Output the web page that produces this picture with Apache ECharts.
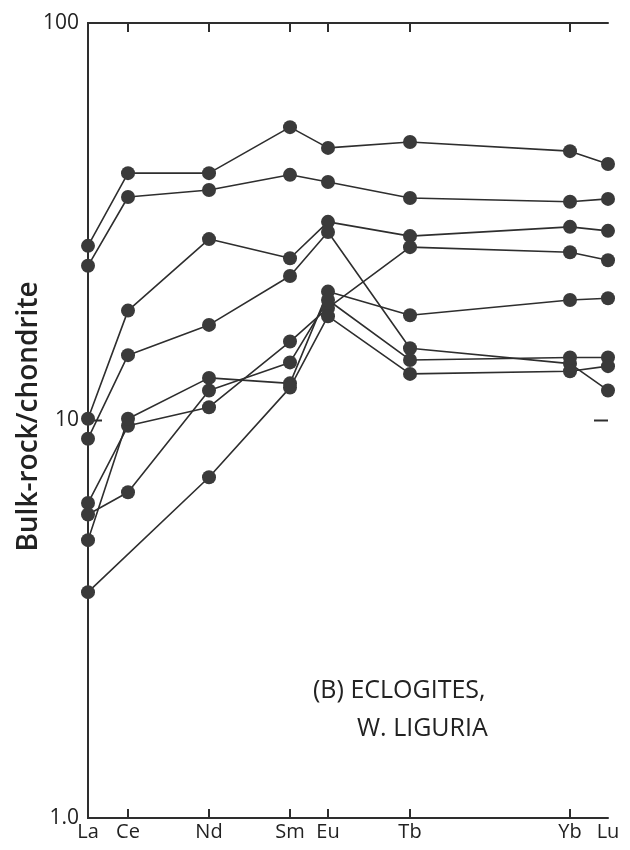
<!DOCTYPE html>
<html>
<head>
<meta charset="utf-8">
<script src="https://cdn.jsdelivr.net/npm/echarts@6/dist/echarts.min.js"></script>
<style>
  html, body { margin: 0; padding: 0; background: #ffffff; }
  #chart { width: 630px; height: 850px; }
</style>
</head>
<body>
<div id="chart"></div>
<script>
// Rare-earth elements on the abscissa, in the order of the source diagram
const elements = ['La', 'Ce', 'Nd', 'Sm', 'Eu', 'Tb', 'Yb', 'Lu'];
// Abscissa position of each element as spaced in the source diagram (arbitrary units)
const elementPos = [0, 40, 121, 202, 240, 322, 482, 520];

// Chondrite-normalised bulk-rock values, one array per eclogite sample (null = not measured)
const sampleA = [27.5, 41.9, 41.9, 54.7, 48.5, 50.2, 47.6, 44.2];
const sampleB = [24.5, 36.5, 38.0, 41.5, 39.8, 36.3, 35.5, 36.1];
const sampleC = [10.1, 18.9, 28.6, 25.6, 31.6, 29.1, 30.7, 30.0];
const sampleD = [9.0, 14.6, 17.4, 23.1, 29.8, 15.2, 13.9, 11.9];
const sampleE = [6.2, 9.7, 10.8, 15.8, 19.2, 27.3, 26.5, 25.3];
const sampleF = [5.0, 10.1, 12.8, 12.4, 21.1, 18.4, 20.1, 20.3];
const sampleG = [5.8, 6.6, 11.9, 14.0, 20.1, 14.2, 14.4, 14.4];
const sampleH = [3.7, null, 7.2, 12.1, 18.3, 13.1, 13.3, 13.7];

// Y tick labels
const yTickValues = [1, 10, 100];
const yTickLabels = ['1.0', '10', '100'];
// Inward tick marks on the frame
const xTickValues = ['Ce', 'Nd', 'Sm', 'Eu', 'Tb', 'Yb'];
const yTickMarks = [10];

const samples = [sampleA, sampleB, sampleC, sampleD, sampleE, sampleF, sampleG, sampleH];

const ink = '#2e2e2e';
const fontFam = '"Open Sans", Lato, sans-serif';

const chart = echarts.init(document.getElementById('chart'), null, { renderer: 'canvas' });

const series = samples.map(function (vals) {
  const data = [];
  vals.forEach(function (v, i) {
    if (v !== null) data.push([elementPos[i], v]);
  });
  return {
    type: 'line',
    data: data,
    symbol: 'circle',
    symbolSize: 14,
    showSymbol: true,
    lineStyle: { color: ink, width: 1.6 },
    itemStyle: { color: '#3a3a3a' },
    emphasis: { disabled: true },
    animation: false,
    z: 3
  };
});

const option = {
  animation: false,
  backgroundColor: '#ffffff',
  grid: { left: 88, right: 22, top: 23, bottom: 32, containLabel: false, outerBoundsMode: 'none' },
  xAxis: [
    {
      type: 'value', position: 'bottom', min: 0, max: 520,
      axisLine: { show: true, lineStyle: { color: ink, width: 2 } },
      axisTick: { show: false },
      axisLabel: {
        show: true, customValues: elementPos, margin: 4,
        formatter: function (v) { const i = elementPos.indexOf(v); return i >= 0 ? elements[i] : ''; },
        fontSize: 20, color: '#222', fontFamily: fontFam
      },
      splitLine: { show: false }
    },
    {
      type: 'value', position: 'top', min: 0, max: 520,
      axisLine: { show: true, lineStyle: { color: ink, width: 2 } },
      axisTick: { show: false },
      axisLabel: { show: false },
      splitLine: { show: false }
    }
  ],
  yAxis: [
    {
      type: 'log', logBase: 10, min: 1, max: 100, position: 'left',
      axisLine: { show: true, lineStyle: { color: ink, width: 2 } },
      axisTick: { show: false },
      axisLabel: {
        show: true, customValues: yTickValues, margin: 9,
        formatter: function (v) { const i = yTickValues.indexOf(v); return i >= 0 ? yTickLabels[i] : ''; },
        fontSize: 21, color: '#222', fontFamily: fontFam
      },
      splitLine: { show: false }
    },
    {
      type: 'log', logBase: 10, min: 1, max: 100, position: 'right',
      axisLine: { show: true, lineStyle: { color: ink, width: 2 } },
      axisTick: { show: false },
      axisLabel: { show: false },
      splitLine: { show: false }
    }
  ],
  series: series
};

chart.setOption(option);

// Inward tick marks, positioned through the chart's own scales
function px(xv, yv) { return chart.convertToPixel({ xAxisIndex: 0, yAxisIndex: 0 }, [xv, yv]); }
const xMin = 0, xMax = 520, yMin = 1, yMax = 100;
const tickStyle = { stroke: ink, lineWidth: 2 };
const graphics = [];
xTickValues.forEach(function (name) {
  const xv = elementPos[elements.indexOf(name)];
  const b = px(xv, yMin), t = px(xv, yMax);
  graphics.push({ type: 'line', shape: { x1: b[0], y1: b[1], x2: b[0], y2: b[1] - 9 }, style: tickStyle, silent: true, z: 1 });
  graphics.push({ type: 'line', shape: { x1: t[0], y1: t[1], x2: t[0], y2: t[1] + 9 }, style: tickStyle, silent: true, z: 1 });
});
yTickMarks.forEach(function (yv) {
  const l = px(xMin, yv), r = px(xMax, yv);
  graphics.push({ type: 'line', shape: { x1: l[0], y1: l[1], x2: l[0] + 14, y2: l[1] }, style: tickStyle, silent: true, z: 1 });
  graphics.push({ type: 'line', shape: { x1: r[0], y1: r[1], x2: r[0] - 14, y2: r[1] }, style: tickStyle, silent: true, z: 1 });
});
// Y-axis title, rotated, centred on the plot height
const midY = (px(xMin, yMin)[1] + px(xMin, yMax)[1]) / 2 - 4;
graphics.push({
  type: 'text', x: 29, y: midY, rotation: Math.PI / 2,
  style: { text: 'Bulk-rock/chondrite', fontSize: 28, fontWeight: 600, fill: '#222', fontFamily: fontFam, align: 'center', verticalAlign: 'middle' },
  silent: true
});
graphics.push({
  type: 'text', left: 313, top: 678,
  style: { text: '(B) ECLOGITES,', fontSize: 25, fill: '#222', fontFamily: fontFam }
});
graphics.push({
  type: 'text', left: 357, top: 716,
  style: { text: 'W. LIGURIA', fontSize: 25, fill: '#222', fontFamily: fontFam }
});
chart.setOption({ graphic: graphics });
</script>
</body>
</html>
